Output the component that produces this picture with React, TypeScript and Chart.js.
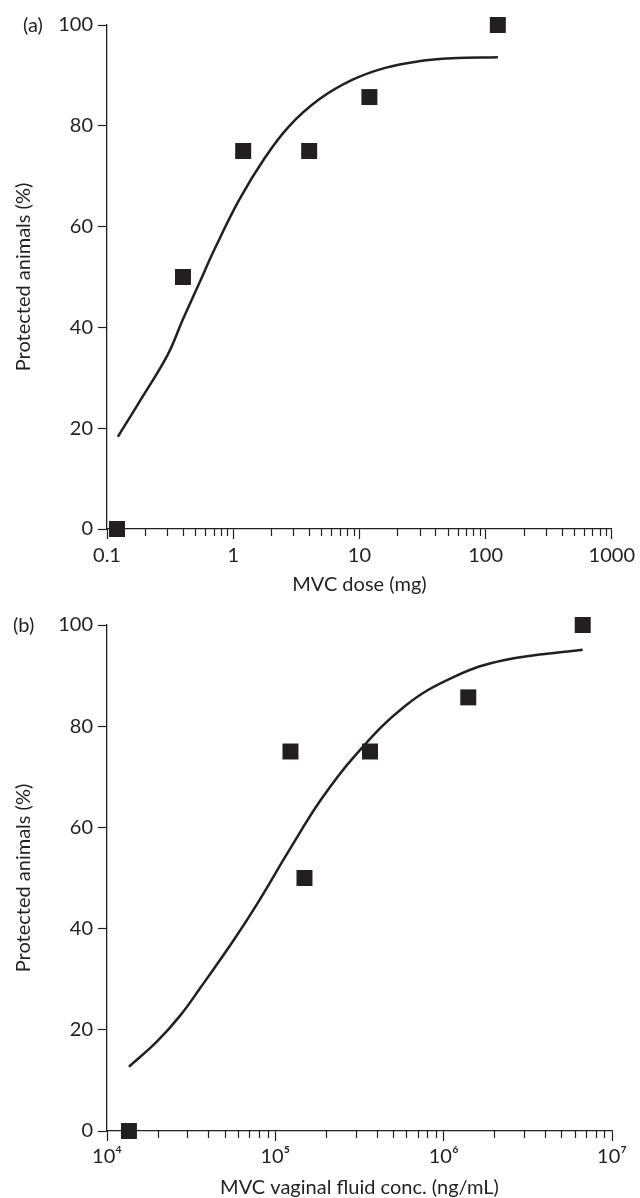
import React, { useEffect, useRef } from 'react';
import { Chart, registerables } from 'chart.js';

Chart.register(...registerables);

const INK = '#231f20';
const FONT_FAMILY = 'Lato, "Open Sans", sans-serif';
const FONT_SIZE = 20;

// ---------- Panel (a): MVC dose ----------
const doseMg = [0.12, 0.4, 1.2, 4, 12, 125];
const doseProtected = [0, 50, 75, 75, 85.7, 100];
const doseCurveX = [0.122, 0.192, 0.303, 0.398, 0.539, 0.708, 1.115, 1.81, 2.77, 4.77, 8.75, 16.0, 29.4, 53.8, 125];
const doseCurveY = [18.3, 26.3, 34.6, 41.5, 48.8, 55.4, 65.3, 73.9, 79.9, 85.2, 89.1, 91.5, 92.8, 93.4, 93.6];
const doseTicks = [0.1, 1, 10, 100, 1000];
const doseTickLabels = ['0.1', '1', '10', '100', '1000'];

// ---------- Panel (b): MVC vaginal fluid concentration ----------
const concNgMl = [1.35e4, 1.23e5, 1.49e5, 3.65e5, 1.4e6, 6.7e6];
const concProtected = [0, 75, 50, 75, 85.7, 100];
const concCurveX = [1.35e4, 1.97e4, 2.72e4, 3.57e4, 5.65e4, 7.8e4, 1.21e5, 1.86e5, 2.94e5, 5.85e5, 1.16e6, 2.31e6, 6.7e6];
const concCurveY = [12.7, 17.6, 22.8, 28.2, 37.7, 44.9, 55.5, 65.4, 74.0, 83.9, 89.8, 93.1, 95.1];
const concTicks = [1e4, 1e5, 1e6, 1e7];
const concTickLabels = ['10\u2074', '10\u2075', '10\u2076', '10\u2077'];

const yTicks = [0, 20, 40, 60, 80, 100];
const yTitle = 'Protected animals (%)';

type PanelSpec = {
  label: string;
  labelX: number;
  xTitle: string;
  xs: number[];
  ys: number[];
  cx: number[];
  cy: number[];
  ticks: number[];
  tickLabels: string[];
  height: number;
  xAxisHeight: number;
  xTitlePadBottom: number;
  xTickPad: number;
};

const panelA: PanelSpec = {
  label: '(a)',
  labelX: 23,
  xTitle: 'MVC dose (mg)',
  xs: doseMg,
  ys: doseProtected,
  cx: doseCurveX,
  cy: doseCurveY,
  ticks: doseTicks,
  tickLabels: doseTickLabels,
  height: 600,
  xAxisHeight: 71,
  xTitlePadBottom: 3,
  xTickPad: 5,
};

const panelB: PanelSpec = {
  label: '(b)',
  labelX: 13,
  xTitle: 'MVC vaginal fluid conc. (ng/mL)',
  xs: concNgMl,
  ys: concProtected,
  cx: concCurveX,
  cy: concCurveY,
  ticks: concTicks,
  tickLabels: concTickLabels,
  height: 598,
  xAxisHeight: 67,
  xTitlePadBottom: -2,
  xTickPad: 4,
};

function makeChart(canvas: HTMLCanvasElement, p: PanelSpec) {
  const minorTicks = {
    id: 'minorTicks',
    afterDraw(chart: any) {
      const s = chart.scales.x;
      const ctx = chart.ctx;
      const lo = Math.log10(s.min);
      const hi = Math.log10(s.max);
      ctx.save();
      ctx.strokeStyle = INK;
      ctx.lineWidth = 1.2;
      for (let e = Math.floor(lo); e < Math.ceil(hi); e++) {
        for (let m = 2; m <= 9; m++) {
          const v = m * Math.pow(10, e);
          if (v <= s.min || v >= s.max) continue;
          const x = Math.round(s.getPixelForValue(v)) + 0.5;
          ctx.beginPath();
          ctx.moveTo(x, s.top);
          ctx.lineTo(x, s.top + 7);
          ctx.stroke();
        }
      }
      ctx.restore();
    },
  };
  const panelLabel = {
    id: 'panelLabel',
    afterDraw(chart: any) {
      const ctx = chart.ctx;
      ctx.save();
      ctx.fillStyle = INK;
      ctx.font = `${FONT_SIZE}px ${FONT_FAMILY}`;
      ctx.textAlign = 'left';
      ctx.textBaseline = 'alphabetic';
      ctx.fillText(p.label, p.labelX, 32);
      ctx.restore();
    },
  };

  return new Chart(canvas, {
    type: 'scatter',
    data: {
      datasets: [
        {
          data: p.xs.map((x, i) => ({ x, y: p.ys[i] })),
          pointStyle: 'rect',
          pointRadius: 11.3,
          pointHoverRadius: 11.3,
          backgroundColor: INK,
          borderColor: INK,
          borderWidth: 0,
          showLine: false,
          clip: false,
        },
        {
          data: p.cx.map((x, i) => ({ x, y: p.cy[i] })),
          showLine: true,
          pointRadius: 0,
          borderColor: INK,
          borderWidth: 2.5,
          tension: 0.4,
          fill: false,
          clip: false,
        },
      ],
    },
    options: {
      responsive: false,
      animation: false,
      devicePixelRatio: 1,
      layout: { padding: { top: 25, right: 28, left: 0, bottom: 0 } },
      plugins: { legend: { display: false }, tooltip: { enabled: false } },
      scales: {
        x: {
          type: 'logarithmic',
          min: p.ticks[0],
          max: p.ticks[p.ticks.length - 1],
          afterBuildTicks: (scale: any) => {
            scale.ticks = p.ticks.map((v) => ({ value: v }));
          },
          afterFit: (scale: any) => {
            scale.height = p.xAxisHeight;
          },
          grid: {
            display: true,
            drawOnChartArea: false,
            drawTicks: true,
            tickLength: 10,
            tickColor: INK,
            tickWidth: 1.2,
          },
          border: { display: true, color: INK, width: 1.3 },
          ticks: {
            autoSkip: false,
            maxRotation: 0,
            padding: p.xTickPad,
            color: INK,
            font: { family: FONT_FAMILY, size: FONT_SIZE },
            callback: (v: any) => {
              const i = p.ticks.findIndex((t) => Math.abs(Math.log10(t) - Math.log10(Number(v))) < 1e-6);
              return i >= 0 ? p.tickLabels[i] : '';
            },
          },
          title: {
            display: true,
            text: p.xTitle,
            color: INK,
            font: { family: FONT_FAMILY, size: FONT_SIZE },
            padding: { top: 0, bottom: p.xTitlePadBottom },
          },
        },
        y: {
          type: 'linear',
          min: yTicks[0],
          max: yTicks[yTicks.length - 1],
          afterBuildTicks: (scale: any) => {
            scale.ticks = yTicks.map((v) => ({ value: v }));
          },
          afterFit: (scale: any) => {
            scale.width = 107;
          },
          grid: {
            display: true,
            drawOnChartArea: false,
            drawTicks: true,
            tickLength: 9,
            tickColor: INK,
            tickWidth: 1.2,
          },
          border: { display: true, color: INK, width: 1.3 },
          ticks: {
            padding: 5,
            color: INK,
            font: { family: FONT_FAMILY, size: FONT_SIZE },
            callback: (v: any) => String(v),
          },
          title: {
            display: true,
            text: yTitle,
            color: INK,
            font: { family: FONT_FAMILY, size: FONT_SIZE },
            padding: { top: 12, bottom: 0 },
          },
        },
      },
    },
    plugins: [minorTicks, panelLabel],
  } as any);
}

function Panel({ spec, top }: { spec: PanelSpec; top: number }) {
  const ref = useRef<HTMLCanvasElement | null>(null);
  useEffect(() => {
    if (!ref.current) return;
    const chart = makeChart(ref.current, spec);
    return () => chart.destroy();
  }, [spec]);
  return (
    <canvas
      ref={ref}
      width={640}
      height={spec.height}
      style={{ position: 'absolute', left: 0, top, width: 640, height: spec.height }}
    />
  );
}

export default function App() {
  return (
    <div style={{ position: 'absolute', left: 0, top: 0, width: 640, height: 1198, background: '#fff' }}>
      <Panel spec={panelA} top={0} />
      <Panel spec={panelB} top={600} />
    </div>
  );
}
